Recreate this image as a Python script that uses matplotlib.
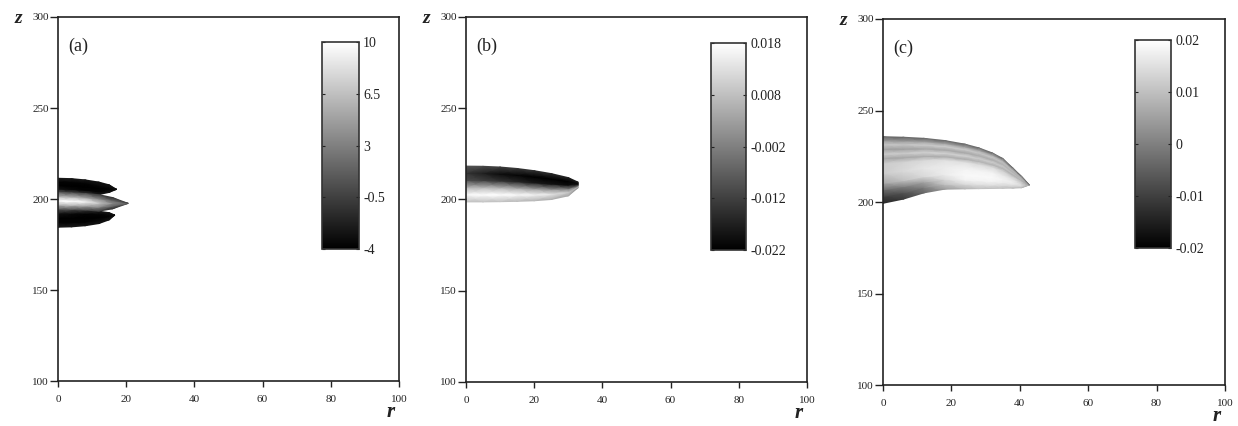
import numpy as np
import matplotlib.pyplot as plt

plt.rcParams['font.family'] = ['Liberation Serif', 'DejaVu Serif']
plt.rcParams['axes.unicode_minus'] = False

# axis ticks (same on all three panels)
r_ticks = [0, 20, 40, 60, 80, 100]
z_ticks = [100, 150, 200, 250, 300]

# ---- panel (a): three lobes around z = 200 ----
a_vmin, a_vmax = -4, 10
a_cb_ticks = [-4, -0.5, 3, 6.5, 10]
a_cb_labels = ['-4', '-0.5', '3', '6.5', '10']
a_layers = [0, 0.25, 0.5, 0.75, 1]

a_up_r = [0, 4, 8, 12, 15, 17.2]
a_up_bot = [203.5, 203.3, 203.0, 202.4, 203.6, 205.3]
a_up_top = [211.4, 211.2, 210.5, 209.3, 207.8, 205.3]
a_up_val = [[1.0, 0.0, -1.0, -2.5, -3.0, -3.0],
            [-3.0, -3.5, -3.8, -3.8, -3.5, -3.0],
            [-4.0, -4.0, -4.0, -4.0, -3.8, -3.0],
            [-3.8, -3.8, -3.8, -3.5, -3.3, -3.0],
            [-2.5, -2.5, -2.7, -3.0, -3.0, -3.0]]

a_mid_r = [0, 4, 8, 12, 16, 20.6]
a_mid_bot = [194.5, 194.3, 194.0, 193.3, 194.6, 197.6]
a_mid_top = [203.5, 203.3, 203.0, 202.4, 200.8, 197.6]
a_mid_val = [[1.0, 0.5, 0.0, -1.0, -1.5, 0.0],
             [6.0, 6.0, 5.0, 3.5, 1.5, 1.0],
             [10.0, 10.0, 9.5, 7.0, 3.5, 1.0],
             [6.0, 6.0, 5.0, 3.5, 1.5, 1.0],
             [1.0, 0.5, 0.0, -1.0, -1.5, 0.0]]

a_low_r = [0, 4, 8, 12, 15, 16.7]
a_low_bot = [184.5, 184.7, 185.3, 186.5, 188.5, 191.2]
a_low_top = [194.5, 194.3, 194.0, 193.3, 192.5, 191.2]
a_low_val = [[-2.5, -2.5, -2.7, -3.0, -3.0, -3.0],
             [-3.8, -3.8, -3.8, -3.5, -3.3, -3.0],
             [-4.0, -4.0, -4.0, -4.0, -3.8, -3.0],
             [-3.0, -3.5, -3.8, -3.8, -3.5, -3.0],
             [1.0, 0.0, -1.0, -2.5, -3.0, -3.0]]

# ---- panel (b): dark over light tongue ----
b_vmin, b_vmax = -0.022, 0.018
b_cb_ticks = [-0.022, -0.012, -0.002, 0.008, 0.018]
b_cb_labels = ['-0.022', '-0.012', '-0.002', '0.008', '0.018']
b_layers = [0, 0.2, 0.4, 0.6, 0.8, 1.0]
b_r = [0, 5, 10, 15, 20, 25, 30, 32.9]
b_bot = [198.7, 198.7, 198.8, 199.0, 199.3, 200.0, 202.0, 206.5]
b_top = [218.3, 218.2, 217.8, 217.0, 215.8, 214.2, 212.0, 209.5]
b_val = [[0.008, 0.008, 0.008, 0.007, 0.006, 0.005, 0.004, 0.000],
         [0.017, 0.018, 0.018, 0.017, 0.016, 0.014, 0.010, 0.004],
         [0.006, 0.007, 0.006, 0.004, 0.002, 0.000, -0.004, -0.010],
         [-0.010, -0.012, -0.014, -0.016, -0.018, -0.019, -0.020, -0.018],
         [-0.014, -0.017, -0.020, -0.021, -0.022, -0.022, -0.022, -0.020],
         [-0.008, -0.010, -0.012, -0.013, -0.014, -0.015, -0.016, -0.018]]

# ---- panel (c): banded cap ----
c_vmin, c_vmax = -0.02, 0.02
c_cb_ticks = [-0.02, -0.01, 0, 0.01, 0.02]
c_cb_labels = ['-0.02', '-0.01', '0', '0.01', '0.02']
c_layers = [0, 0.1, 0.2, 0.3, 0.45, 0.6, 0.67, 0.74, 0.81, 0.88, 0.94, 1.0]
c_r = [0, 6, 12, 18, 24, 28, 32, 35, 38, 40.5, 42.8]
c_bot = [199.3, 201.6, 205.0, 207.0, 207.2, 207.3, 207.4, 207.5, 207.6, 207.8, 209.3]
c_top = [235.7, 235.4, 234.8, 233.6, 231.6, 229.6, 226.8, 223.8, 218.5, 214.0, 209.3]
c_val = [[-0.014, -0.011, -0.004, 0.004, 0.008, 0.010, 0.010, 0.010, 0.009, 0.008, 0.004],
         [-0.010, -0.007, 0.000, 0.010, 0.014, 0.015, 0.015, 0.014, 0.013, 0.012, 0.004],
         [-0.003, 0.000, 0.006, 0.014, 0.018, 0.018, 0.018, 0.017, 0.016, 0.014, 0.004],
         [0.006, 0.010, 0.014, 0.017, 0.019, 0.019, 0.019, 0.018, 0.017, 0.014, 0.004],
         [0.012, 0.014, 0.016, 0.017, 0.018, 0.018, 0.018, 0.016, 0.015, 0.012, 0.004],
         [0.012, 0.013, 0.014, 0.015, 0.015, 0.014, 0.014, 0.012, 0.011, 0.010, 0.004],
         [0.006, 0.006, 0.007, 0.007, 0.007, 0.008, 0.008, 0.008, 0.008, 0.008, 0.004],
         [0.012, 0.012, 0.013, 0.013, 0.013, 0.012, 0.012, 0.011, 0.010, 0.009, 0.004],
         [0.005, 0.005, 0.006, 0.006, 0.006, 0.007, 0.007, 0.008, 0.008, 0.008, 0.004],
         [0.011, 0.011, 0.012, 0.012, 0.012, 0.011, 0.011, 0.010, 0.009, 0.008, 0.004],
         [0.004, 0.004, 0.005, 0.005, 0.005, 0.006, 0.006, 0.006, 0.006, 0.006, 0.004],
         [-0.004, -0.004, -0.004, -0.004, -0.004, -0.004, -0.004, -0.004, -0.004, -0.004, -0.004]]


def blob(ax, r, z_bot, z_top, layers, vals, vmin, vmax):
    # curvilinear mesh between the lower and upper edge of the region
    r = np.asarray(r, float)
    zb = np.asarray(z_bot, float)
    zt = np.asarray(z_top, float)
    s = np.asarray(layers, float)[:, None]
    R = np.broadcast_to(r, (len(layers), len(r)))
    Z = zb + s * (zt - zb)
    return ax.pcolormesh(R, Z, np.array(vals), shading='gouraud', cmap='gray',
                         vmin=vmin, vmax=vmax, rasterized=True)


def setup(ax, letter):
    ax.set_xlim(0, 100)
    ax.set_ylim(100, 300)
    ax.set_xticks(r_ticks)
    ax.set_yticks(z_ticks)
    ax.tick_params(axis='both', direction='out', labelsize=8, colors='#222',
                   width=1, top=False, right=False)
    ax.tick_params(axis='y', length=6, pad=0.5)
    ax.tick_params(axis='x', length=4, pad=6)
    for sp in ax.spines.values():
        sp.set_linewidth(1.2)
        sp.set_color('#222')
    ax.text(6, 284, letter, fontsize=13, ha='center', va='center', color='#222')
    ax.text(-0.115, 0.995, 'z', transform=ax.transAxes, fontsize=14,
            fontstyle='italic', fontweight='bold', ha='center', va='center', color='#222')
    ax.text(0.975, -0.098, 'r', transform=ax.transAxes, fontsize=15,
            fontstyle='italic', fontweight='bold', ha='center', va='baseline', color='#222')


def cbar(fig, m, rect, ticks, labels):
    cax = fig.add_axes(rect)
    cb = fig.colorbar(m, cax=cax, ticks=ticks)
    cb.ax.set_yticklabels(labels)
    cb.outline.set_linewidth(1.2)
    cb.outline.set_edgecolor('#333')
    cax.tick_params(direction='in', length=2.5, width=0.8, left=True, right=True,
                    labelsize=10, pad=3, colors='#222')


fig = plt.figure(figsize=(12.38, 4.26), dpi=100)

ax_a = fig.add_axes([0.0468, 0.1056, 0.2754, 0.8545])
ax_b = fig.add_axes([0.3764, 0.1033, 0.2754, 0.8568])
ax_c = fig.add_axes([0.7132, 0.0962, 0.2763, 0.8592])

blob(ax_a, a_up_r, a_up_bot, a_up_top, a_layers, a_up_val, a_vmin, a_vmax)
blob(ax_a, a_low_r, a_low_bot, a_low_top, a_layers, a_low_val, a_vmin, a_vmax)
m_a = blob(ax_a, a_mid_r, a_mid_bot, a_mid_top, a_layers, a_mid_val, a_vmin, a_vmax)
m_b = blob(ax_b, b_r, b_bot, b_top, b_layers, b_val, b_vmin, b_vmax)
m_c = blob(ax_c, c_r, c_bot, c_top, c_layers, c_val, c_vmin, c_vmax)

setup(ax_a, '(a)')
setup(ax_b, '(b)')
setup(ax_c, '(c)')

cbar(fig, m_a, [0.2601, 0.4155, 0.0299, 0.4859], a_cb_ticks, a_cb_labels)
cbar(fig, m_b, [0.5743, 0.4131, 0.0283, 0.4859], b_cb_ticks, b_cb_labels)
cbar(fig, m_c, [0.9168, 0.4178, 0.0291, 0.4883], c_cb_ticks, c_cb_labels)

fig.savefig('out.png', dpi=100)
